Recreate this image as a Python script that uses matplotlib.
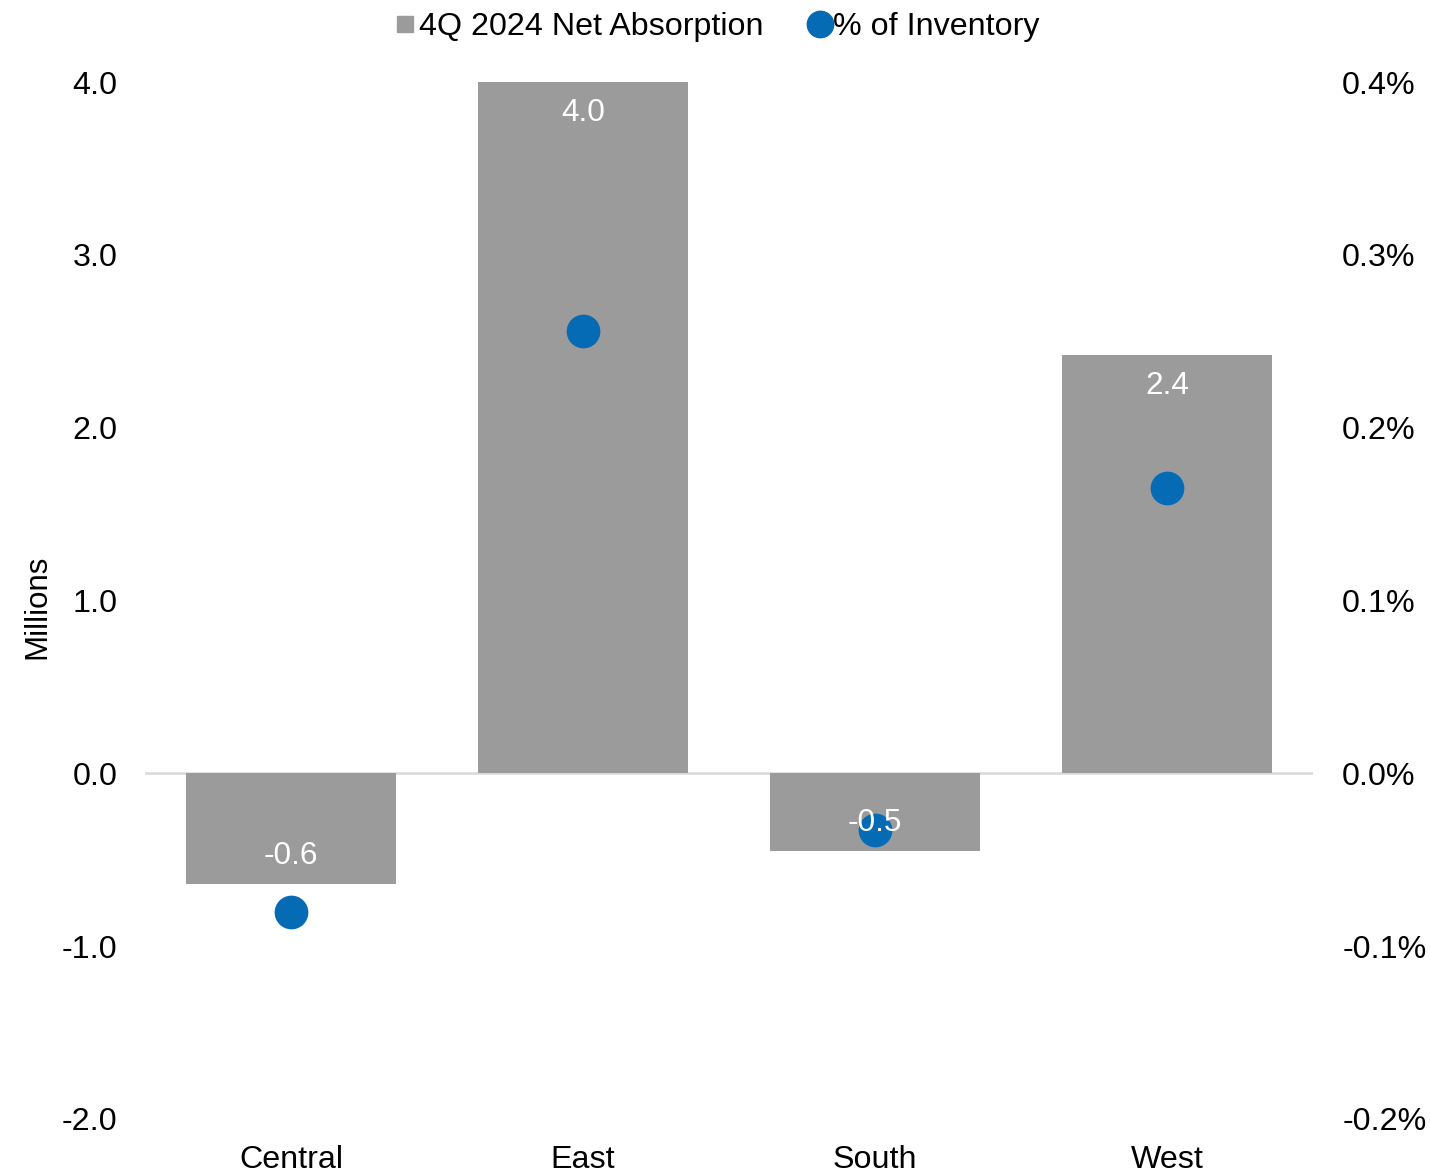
import matplotlib
matplotlib.use("Agg")
import matplotlib.pyplot as plt
from matplotlib.lines import Line2D
from matplotlib.ticker import FuncFormatter, FixedLocator

plt.rcParams['font.family'] = ['Liberation Sans', 'DejaVu Sans']
plt.rcParams['axes.unicode_minus'] = False

# ---- data ----
regions = ["Central", "East", "South", "West"]
net_absorption = [-0.64, 4.0, -0.45, 2.42]          # millions
pct_inventory = [-0.080, 0.256, -0.033, 0.165]      # percent
bar_labels = ["-0.6", "4.0", "-0.5", "2.4"]
left_ticks = [-2.0, -1.0, 0.0, 1.0, 2.0, 3.0, 4.0]
right_ticks = [-0.2, -0.1, 0.0, 0.1, 0.2, 0.3, 0.4]

BAR = "#9B9B9B"
DOT = "#066BB5"
FS = 23.2

fig = plt.figure(figsize=(14.3, 11.75), dpi=100)
ax = fig.add_axes([145/1430, 1-1119/1175, (1313-145)/1430, (1119-82)/1175])
ax2 = ax.twinx()

x = list(range(len(regions)))
bars = ax.bar(x, net_absorption, width=0.716, color=BAR, zorder=2)
ax.axhline(0, color="#D9D9D9", lw=1.8, zorder=1)
ax.set_xlim(-0.5, 3.5)
ax.set_ylim(-2.0, 4.0)
ax.yaxis.set_major_locator(FixedLocator(left_ticks))
ax.yaxis.set_major_formatter(FuncFormatter(lambda v, p: f"{v:.1f}"))
ax.set_xticks(x)
ax.set_xticklabels(regions)
ax.tick_params(axis='y', length=0, pad=20, labelsize=FS)
ax.tick_params(axis='x', length=0, pad=19, labelsize=FS)
for s in ax.spines.values():
    s.set_visible(False)

ax2.set_ylim(-0.2, 0.4)
ax2.yaxis.set_major_locator(FixedLocator(right_ticks))
ax2.yaxis.set_major_formatter(FuncFormatter(lambda v, p: f"{v:.1f}%"))
ax2.tick_params(axis='y', length=0, pad=21, labelsize=FS)
for s in ax2.spines.values():
    s.set_visible(False)
ax2.scatter(x, pct_inventory, s=590, color=DOT, zorder=3, linewidths=0)

# data labels (inside end), drawn on top of dots
for xi, v, lab in zip(x, net_absorption, bar_labels):
    off = -31 if v >= 0 else 28
    ax2.annotate(lab, xy=(xi, v * 0.1), xycoords='data',
                 xytext=(0, off * 0.72), textcoords='offset points',
                 ha='center', va='center', color='white', fontsize=FS - 0.5,
                 zorder=5)

fig.text(37/1430, 1-607/1175, "Millions", rotation=90, ha='center', va='center',
         fontsize=FS - 0.7)

handles = [Line2D([], [], marker='s', ls='', color=BAR, markersize=11.5),
           Line2D([], [], marker='o', ls='', color=DOT, markersize=19)]
fig.legend(handles, ["4Q 2024 Net Absorption", "% of Inventory"],
           loc='center', bbox_to_anchor=(0.502, 1-27/1175), ncol=2, frameon=False,
           fontsize=FS, handlelength=0.6, handletextpad=0.12, columnspacing=1.45,
           borderaxespad=0, borderpad=0)

fig.savefig("out.png", dpi=100)
